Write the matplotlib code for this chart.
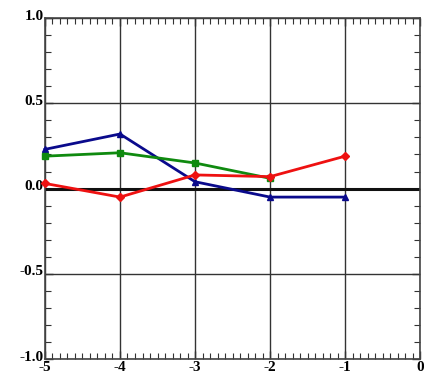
import numpy as np
import matplotlib
matplotlib.use("Agg")
import matplotlib.pyplot as plt
from matplotlib.ticker import MultipleLocator
from matplotlib.transforms import ScaledTranslation

# --- data ---
X = [-5, -4, -3, -2, -1]
BLUE = [0.23, 0.32, 0.04, -0.05, -0.05]
GREEN = [0.19, 0.21, 0.15, 0.06]
RED = [0.03, -0.05, 0.08, 0.07, 0.19]

XTICKS = [-5, -4, -3, -2, -1, 0]
YTICKS = [-1.0, -0.5, 0.0, 0.5, 1.0]

plt.rcParams["font.family"] = ["Liberation Serif", "DejaVu Serif"]

fig = plt.figure(figsize=(4.24, 3.76), dpi=100)
ax = fig.add_axes([0.106, 0.045, 0.885, 0.907])

ax.set_xlim(-5, 0)
ax.set_ylim(-1, 1)
ax.grid(True, which="major", color="#333333", lw=1.0)
ax.axhline(0, color="#111111", lw=2.2, zorder=2)

ax.plot(X, BLUE, color="#0a0a8c", lw=2.0, marker="^", ms=5, zorder=3, clip_on=False)
ax.plot(X[:4], GREEN, color="#0f8a0f", lw=2.0, marker="s", ms=4, zorder=3, clip_on=False)
ax.plot(X, RED, color="#ee1111", lw=2.0, marker="D", ms=4, zorder=4, clip_on=False)

ax.set_xticks(XTICKS)
ax.set_yticks(YTICKS)
ax.set_xticklabels([str(v) for v in XTICKS])
ax.set_yticklabels([f"{v:.1f}" for v in YTICKS])
ax.xaxis.set_minor_locator(MultipleLocator(0.1))
ax.yaxis.set_minor_locator(MultipleLocator(0.1))
ax.tick_params(which="both", direction="in", top=True, right=True, color="#333333")
ax.tick_params(which="major", length=6, width=1, labelsize=11, pad=1)
ax.tick_params(which="minor", length=4, width=0.8)
ax.tick_params(axis="x", which="major", pad=0)
for lab in ax.get_xticklabels() + ax.get_yticklabels():
    lab.set_fontweight("bold")
# y labels sit a little above their ticks in the reference, x labels hug the bottom edge
for lab in ax.get_yticklabels():
    lab.set_transform(lab.get_transform() + ScaledTranslation(0, 2.5 / 72, fig.dpi_scale_trans))
for lab in ax.get_xticklabels():
    lab.set_transform(lab.get_transform() + ScaledTranslation(0, -1.5 / 72, fig.dpi_scale_trans))
for s in ax.spines.values():
    s.set_color("#444444")
    s.set_linewidth(1.2)

fig.savefig("out.png", dpi=100)
